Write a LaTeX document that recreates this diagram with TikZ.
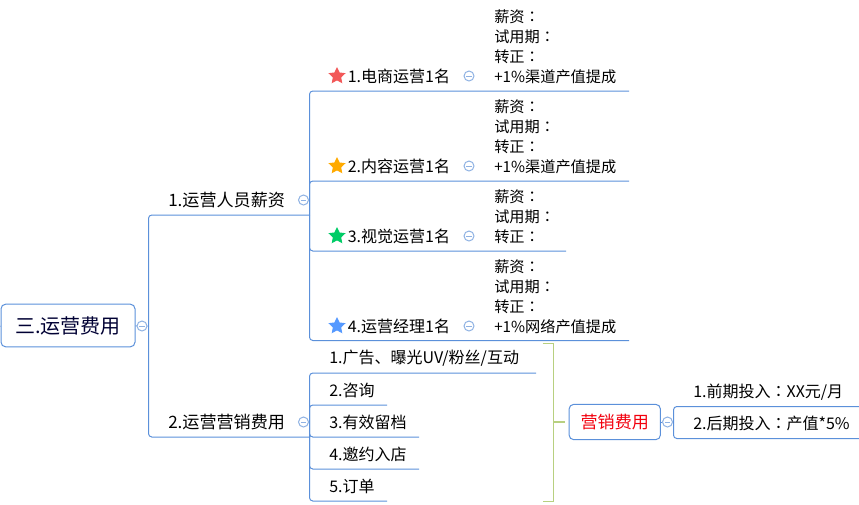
\documentclass[tikz,border=0pt]{standalone}
\usepackage{fontspec}
\setmainfont{Noto Sans CJK SC}
\newfontfamily\colonfont{Noto Sans CJK TC}
\newcommand{\cc}{{\colonfont ：}}
\usepackage{xcolor}
\usetikzlibrary{shapes.geometric,positioning}
\definecolor{linkblue}{HTML}{5B90DA}
\definecolor{togglering}{HTML}{8FB2E3}
\definecolor{bracegreen}{HTML}{B8D080}
\definecolor{starred}{HTML}{F25858}
\definecolor{starorange}{HTML}{FFAA00}
\definecolor{stargreen}{HTML}{00CC66}
\definecolor{starblue}{HTML}{5599FF}

\begin{document}
\begin{tikzpicture}[
		x=0.75pt, y=-0.75pt,
		link/.style={draw=linkblue, line width=0.75pt, rounded corners=2.5pt},
		brace/.style={draw=bracegreen, line width=0.8pt},
		framebox/.style={rectangle, draw=linkblue, line width=0.75pt, rounded corners=3.5pt, align=center},
		toggle/.style={circle, draw=togglering, line width=0.75pt, fill=white, minimum size=7.5pt, inner sep=0pt,
			path picture={\draw[togglering, line width=0.6pt] ([xshift=1.8pt]path picture bounding box.west) -- ([xshift=-1.8pt]path picture bounding box.east);}},
		mark star/.style={star, star points=5, star point ratio=2.05, draw=none, minimum size=13.5pt, inner sep=0pt},
		main/.style={anchor=west, inner sep=0pt, font=\fontsize{12.8}{15}\selectfont},
		item/.style={anchor=west, inner sep=0pt, font=\fontsize{12}{15}\selectfont},
		note/.style={anchor=west, inner sep=0pt, align=left, font=\fontsize{11.4}{15}\selectfont}
		]
		\useasboundingbox (0,0) rectangle (859,504);
		
		% root
		\node[framebox, minimum width=100.5pt, minimum height=32pt, text=black!80!blue, font=\fontsize{15}{16}\selectfont] (root) at (68,325.5) {三.运营费用};
		\node[toggle] (roottoggle) at (142,326) {};
		\coordinate (leftend) at (0,326);
		\coordinate (rootstem) at (148.5,326);
		\coordinate (staff) at (309.5,215);
		\coordinate (market) at (309.5,437);
		\draw[link] (leftend) -- (root);
		\draw[link] (root) -- (roottoggle) -- (rootstem);
		\draw[link] (rootstem) |- (staff);
		\draw[link] (rootstem) |- (market);
		
		% 1. staff
		\node[main] (staffname) at (168,200) {1.运营人员薪资};
		\node[toggle] (stafftoggle) at (303.5,200) {};
		
		\coordinate (endA) at (629,91);
		\coordinate (endB) at (629,181);
		\coordinate (endC) at (566,251);
		\coordinate (endD) at (629,340.5);
		\foreach \e in {endA,endB,endC,endD}
			\draw[link] (staff) |- (\e);
		
		\node[mark star, fill=starred] (starA) at (337,76) {};
		\node[item, right=3.4pt of starA] (roleA) {1.电商运营1名};
		\node[toggle] (toggleA) at (469,76) {};
		\node[note] (noteA) at (494,46.5) {薪资\cc\\试用期\cc\\转正\cc\\+1\%渠道产值提成};
		
		\node[mark star, fill=starorange] (starB) at (337,166) {};
		\node[item, right=3.4pt of starB] (roleB) {2.内容运营1名};
		\node[toggle] (toggleB) at (469,166) {};
		\node[note] (noteB) at (494,136.5) {薪资\cc\\试用期\cc\\转正\cc\\+1\%渠道产值提成};
		
		\node[mark star, fill=stargreen] (starC) at (337,236) {};
		\node[item, right=3.4pt of starC] (roleC) {3.视觉运营1名};
		\node[toggle] (toggleC) at (469,236) {};
		\node[note] (noteC) at (494,216.5) {薪资\cc\\试用期\cc\\转正\cc};
		
		\node[mark star, fill=starblue] (starD) at (337,326) {};
		\node[item, right=3.4pt of starD] (roleD) {4.运营经理1名};
		\node[toggle] (toggleD) at (469,326) {};
		\node[note] (noteD) at (494,296.5) {薪资\cc\\试用期\cc\\转正\cc\\+1\%网络产值提成};
		
		% 2. marketing
		\node[main] (marketname) at (168,422) {2.运营营销费用};
		\node[toggle] (markettoggle) at (303.5,422) {};
		
		\coordinate (stepA) at (536,373);
		\coordinate (stepB) at (387,405);
		\coordinate (stepC) at (419,437);
		\coordinate (stepD) at (419,469);
		\coordinate (stepE) at (387,501);
		\foreach \e in {stepA,stepB,stepC,stepD,stepE}
			\draw[link] (market) |- (\e);
		
		\node[item] (funnelA) at (329,358) {1.广告、曝光UV/粉丝/互动};
		\node[item] (funnelB) at (329,390) {2.咨询};
		\node[item] (funnelC) at (329,422) {3.有效留档};
		\node[item] (funnelD) at (329,454) {4.邀约入店};
		\node[item] (funnelE) at (329,486) {5.订单};
		
		% summary
		\node[framebox, minimum width=68.5pt, minimum height=26.5pt, text=red!95!blue, font=\fontsize{12.8}{15}\selectfont] (budget) at (614.75,422) {营销费用};
		\coordinate (braceTop) at (542.5,343.5);
		\coordinate (braceBottom) at (542.5,501.5);
		\coordinate (braceMid) at (553.5,422);
		\coordinate (braceTail) at (565,422);
		\draw[brace] (braceTop) -| (braceBottom -| braceMid) -- (braceBottom);
		\draw[brace] (braceMid) -- (braceTail);
		
		\node[toggle] (budgettoggle) at (667.5,422) {};
		\coordinate (budgetstem) at (673.5,422);
		\coordinate (costA) at (859,406.5);
		\coordinate (costB) at (859,438.5);
		\draw[link] (budget) -- (budgettoggle) -- (budgetstem);
		\draw[link] (budgetstem) |- (costA);
		\draw[link] (budgetstem) |- (costB);
		
		\node[item] (costnameA) at (693,392) {1.前期投入\cc XX元/月};
		\node[item] (costnameB) at (693,423) {2.后期投入\cc 产值*5\%};
	\end{tikzpicture}
\end{document}
